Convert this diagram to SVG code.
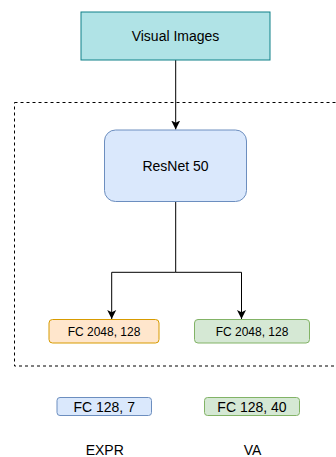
<svg xmlns="http://www.w3.org/2000/svg" width="336" height="457" viewBox="0 0 336 457">
<style>
text{font-family:"Liberation Sans",Arial,sans-serif;fill:#000;text-anchor:middle;dominant-baseline:central}
.c{fill:none;stroke:#000;stroke-width:1}
</style>
<defs>
<marker id="ah" markerWidth="10" markerHeight="10" viewBox="0 0 10 10" refX="9" refY="5" orient="auto" markerUnits="userSpaceOnUse">
<path d="M0,0.5 L9,5 L0,9.5 L2.2,5 Z" fill="#000"/>
</marker>
</defs>
<rect x="14.5" y="102.5" width="340" height="263.5" fill="none" stroke="#000" stroke-dasharray="3,3"/>
<g id="connectors">
<path class="c" d="M175.7,60 V129.5" marker-end="url(#ah)"/>
<path class="c" d="M175.7,202 V272.3 H111.7 V319" marker-end="url(#ah)"/>
<path class="c" d="M175.7,272.3 H241.5 V319" marker-end="url(#ah)"/>
</g>
<g id="visual-images">
<rect x="81" y="12" width="189" height="48" fill="#b0e3e6" stroke="#0e8088"/>
<text x="175.5" y="36" font-size="14">Visual Images</text>
</g>
<g id="resnet">
<rect x="104.5" y="130" width="142" height="71.5" rx="11" fill="#dae8fc" stroke="#6c8ebf"/>
<text x="175.5" y="166" font-size="14">ResNet 50</text>
</g>
<g id="fc-expr-1">
<rect x="49" y="319.5" width="110" height="23.5" rx="3.5" fill="#ffe6cc" stroke="#d79b00"/>
<text x="104" y="331.5" font-size="12">FC 2048, 128</text>
</g>
<g id="fc-va-1">
<rect x="194.5" y="319.5" width="115" height="23.5" rx="3.5" fill="#d5e8d4" stroke="#82b366"/>
<text x="252" y="331.5" font-size="12">FC 2048, 128</text>
</g>
<g id="fc-expr-2">
<rect x="57" y="397.5" width="94.5" height="18" rx="3" fill="#dae8fc" stroke="#6c8ebf"/>
<text x="104.2" y="406.7" font-size="14">FC 128, 7</text>
</g>
<g id="fc-va-2">
<rect x="204.5" y="397.5" width="95" height="18" rx="3" fill="#d5e8d4" stroke="#82b366"/>
<text x="252" y="406.7" font-size="14">FC 128, 40</text>
</g>
<g id="expr">
<text x="104.7" y="455" font-size="14" style="dominant-baseline:auto">EXPR</text>
</g>
<g id="va">
<text x="252.5" y="455" font-size="14" style="dominant-baseline:auto">VA</text>
</g>
</svg>
